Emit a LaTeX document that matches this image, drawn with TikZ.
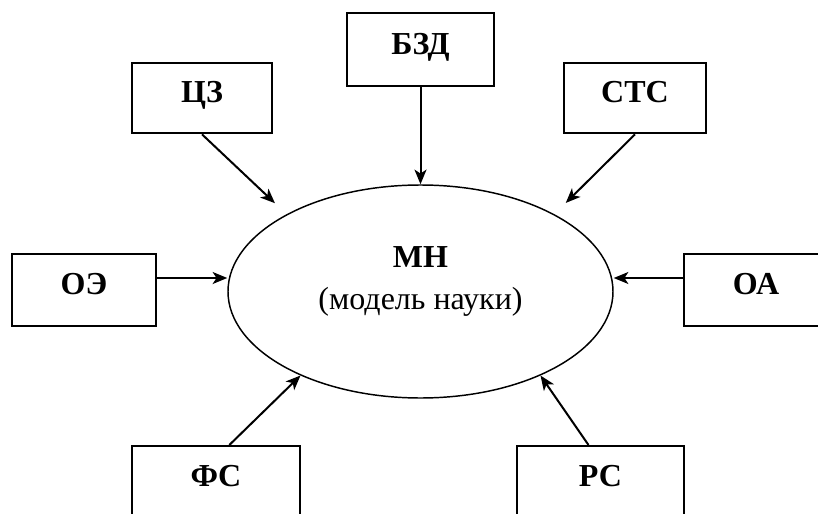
\documentclass[tikz,border=0pt]{standalone}
\usepackage{fontspec}
\setmainfont{Liberation Serif}
\usepackage{tikz}
\usetikzlibrary{arrows.meta, shapes.geometric, positioning}

\begin{document}
\begin{tikzpicture}[x=0.75pt, y=-0.75pt,
    box/.style={draw, line width=1.5pt, minimum width=106pt, minimum height=53pt, inner sep=0pt,
        text height=16pt, text depth=9pt, font=\fontsize{24}{28}\selectfont\bfseries},
    arr/.style={-{Stealth[length=11pt, width=9pt, inset=3pt]}, line width=1.5pt}]
    \useasboundingbox (0,0) rectangle (818,514);
    \clip (0,0) rectangle (818,514);

    \node[draw, ellipse, line width=1.1pt, minimum width=288.75pt, minimum height=159.75pt, inner sep=0pt] (mn) at (420.5, 291.5) {};
    \node[align=center, font=\fontsize{24}{32}\selectfont] (mntxt) at (420.5, 281.5) {\textbf{МН}\\(модель науки)};

    \node[box, minimum width=105pt] (cz) at (202, 98) {ЦЗ};
    \node[box, minimum width=110pt, minimum height=55pt] (bzd) at (420.5, 49.5) {БЗД};
    \node[box, minimum width=106.5pt] (stc) at (635, 98) {СТС};
    \node[box, minimum width=108pt, minimum height=54pt] (oe) at (84, 290) {ОЭ};
    \node[box, minimum width=108pt, minimum height=54pt] (oa) at (756, 290) {ОА};
    \node[box, minimum width=126pt, minimum height=54pt] (fs) at (216, 482) {ФС};
    \node[box, minimum width=125pt, minimum height=54pt] (rs) at (600.5, 482) {РС};

    \draw
    (cz.south) edge[arr, shorten >=12pt] (mn.150)
    (bzd.south) edge[arr] (mn.north)
    (stc.south) edge[arr, shorten >=12pt] (mn.30)
    ([yshift=9pt]oe.east) edge[arr] ([yshift=9pt]oe.east -| mn.west)
    ([yshift=9pt]oa.west) edge[arr] ([yshift=9pt]oa.west -| mn.east)
    ([xshift=10pt]fs.north) edge[arr] (mn.215)
    ([xshift=-9pt]rs.north) edge[arr] (mn.-35);
\end{tikzpicture}
\end{document}
